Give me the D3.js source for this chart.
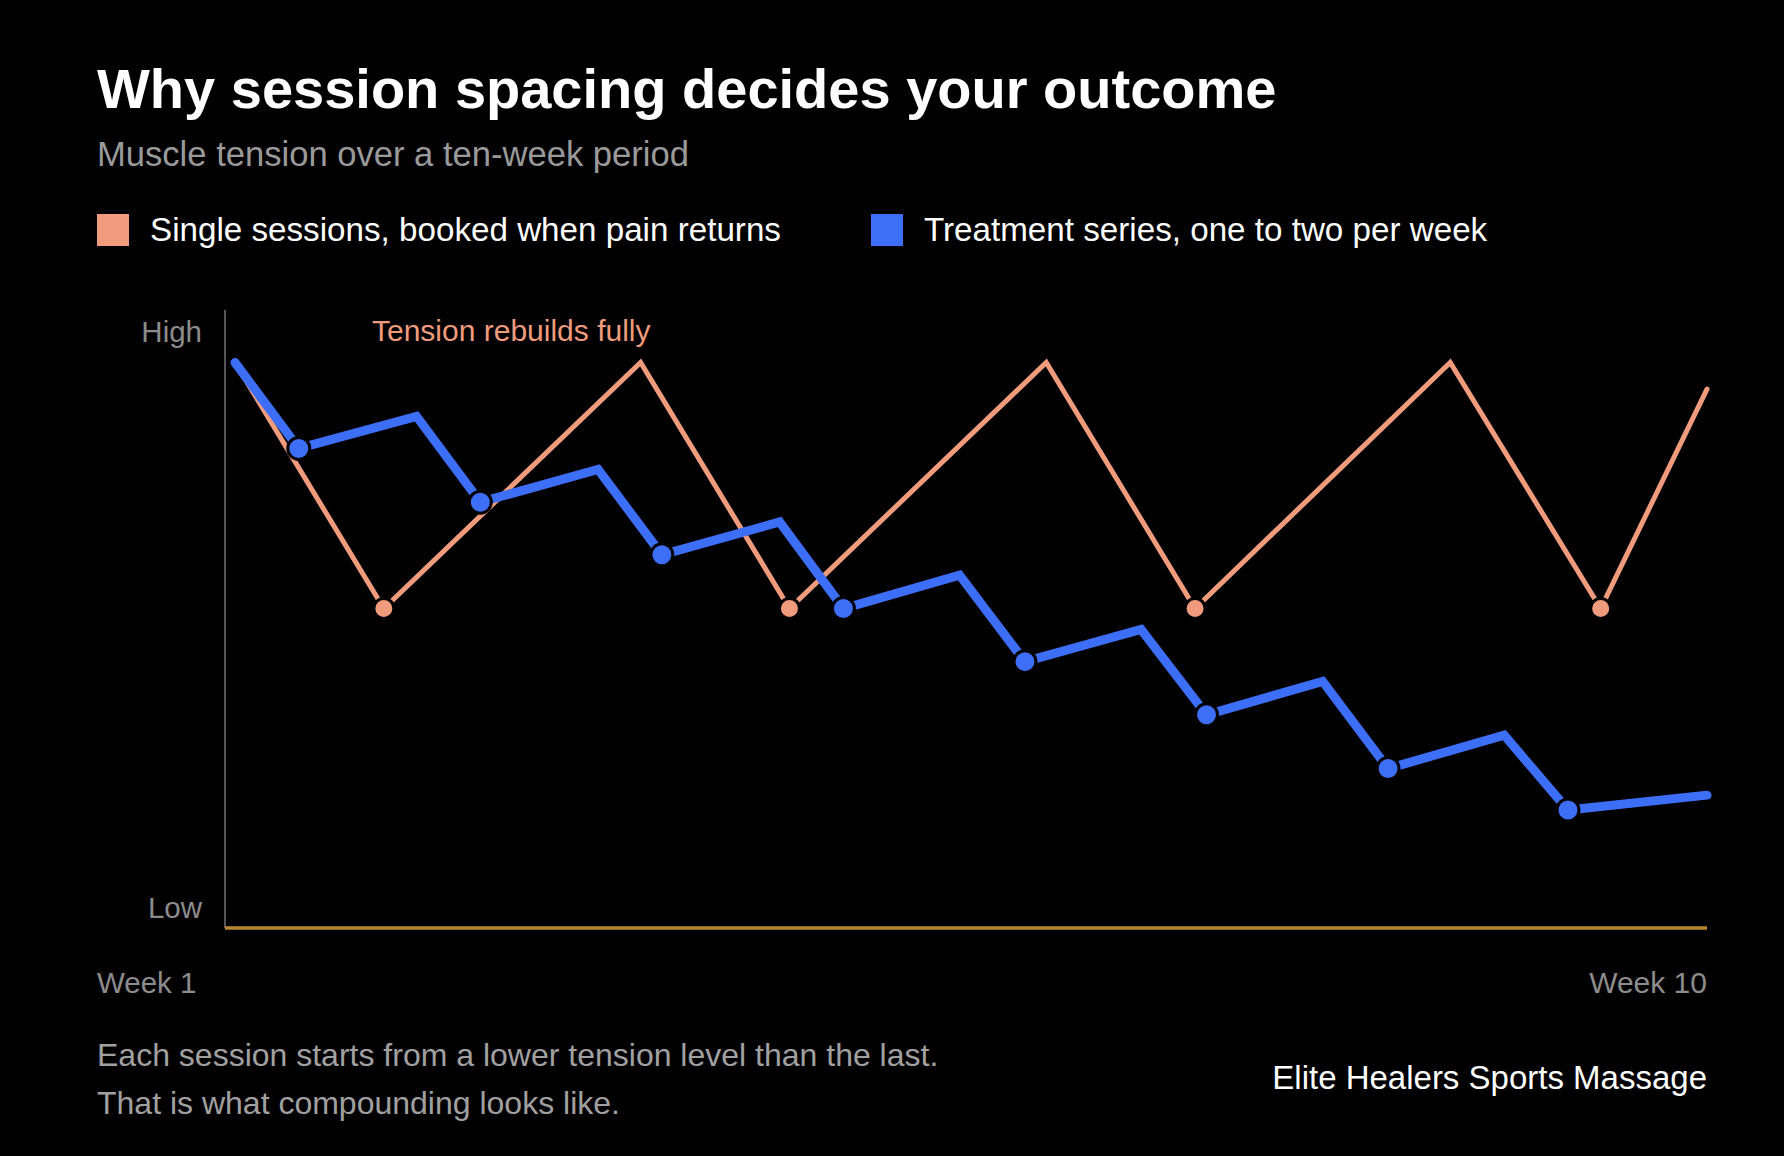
<!DOCTYPE html>
<html>
<head>
<meta charset="utf-8">
<title>Why session spacing decides your outcome</title>
<script src="https://d3js.org/d3.v7.min.js"></script>
<style>
  html, body { margin: 0; padding: 0; background: #000; }
  text { font-family: "Liberation Sans", Arial, Helvetica, sans-serif; }
</style>
</head>
<body>
<svg id="chart" width="1784" height="1156"></svg>
<script>
// week position (1..10) and tension level (0 = low, 100 = high)
var singleWeeks  = [1, 1.91, 3.48, 4.39, 5.96, 6.87, 8.43, 9.35, 10];
var singleValues = [91.5, 51.7, 91.5, 51.7, 91.5, 51.7, 91.5, 51.7, 87.2];
var singleDots   = [1, 3, 5, 7];

var seriesWeeks  = [1, 1.39, 2.11, 2.50, 3.22, 3.61, 4.33, 4.72, 5.43, 5.83,
                    6.54, 6.94, 7.65, 8.05, 8.76, 9.15, 10];
var seriesValues = [91.5, 77.6, 82.8, 68.9, 74.2, 60.4, 65.7, 51.7, 57.1, 43.1,
                    48.3, 34.5, 39.9, 25.8, 31.2, 19.1, 21.5];
var seriesDots   = [1, 3, 5, 7, 9, 11, 13, 15];

var legendLabels = ["Single sessions, booked when pain returns",
                    "Treatment series, one to two per week"];
var yLabels = ["Low", "High"];
var xLabels = ["Week 1", "Week 10"];

var orange = "#ef9b7c";
var blue = "#3d6ef7";

var svg = d3.select("#chart");
svg.append("rect").attr("width", 1784).attr("height", 1156).attr("fill", "#000");

var plotLeft = 225, plotRight = 1707, plotTop = 310, plotBottom = 928;

var x = d3.scaleLinear().domain([1, 10]).range([plotLeft + 10, plotRight]);
var y = d3.scaleLinear().domain([0, 100]).range([plotBottom, plotTop]);

// titles
svg.append("text").attr("x", 97).attr("y", 108)
  .attr("font-size", 56).attr("font-weight", "bold").attr("fill", "#fff")
  .text("Why session spacing decides your outcome");
svg.append("text").attr("x", 97).attr("y", 166)
  .attr("font-size", 34.6).attr("fill", "#9a9a9a")
  .text("Muscle tension over a ten-week period");

// legend
var legendX = [97, 871];
[orange, blue].forEach(function(c, i) {
  svg.append("rect").attr("x", legendX[i]).attr("y", 214)
    .attr("width", 32).attr("height", 32).attr("fill", c);
  svg.append("text").attr("x", legendX[i] + 53).attr("y", 241)
    .attr("font-size", 33.2).attr("fill", "#fff").text(legendLabels[i]);
});

// axes
svg.append("line").attr("x1", plotLeft).attr("x2", plotLeft)
  .attr("y1", plotTop).attr("y2", plotBottom)
  .attr("stroke", "#555").attr("stroke-width", 2);
svg.append("line").attr("x1", plotLeft).attr("x2", plotRight)
  .attr("y1", y(0)).attr("y2", y(0))
  .attr("stroke", "#b8862b").attr("stroke-width", 3.5);

svg.append("text").attr("x", 202).attr("y", y(0) - 10)
  .attr("text-anchor", "end").attr("font-size", 29.5).attr("fill", "#8c8c8c")
  .text(yLabels[0]);
svg.append("text").attr("x", 202).attr("y", y(100) + 32)
  .attr("text-anchor", "end").attr("font-size", 29.5).attr("fill", "#8c8c8c")
  .text(yLabels[1]);

svg.append("text").attr("x", 97).attr("y", 993)
  .attr("font-size", 29.5).attr("fill", "#8c8c8c").text(xLabels[0]);
svg.append("text").attr("x", plotRight).attr("y", 993)
  .attr("text-anchor", "end").attr("font-size", 30).attr("fill", "#8c8c8c")
  .text(xLabels[1]);

// lines
var line = d3.line()
  .x(function(d) { return x(d[0]); })
  .y(function(d) { return y(d[1]); });

var single = d3.zip(singleWeeks, singleValues);
var series = d3.zip(seriesWeeks, seriesValues);

svg.append("path").attr("d", line(single))
  .attr("fill", "none").attr("stroke", orange).attr("stroke-width", 5)
  .attr("stroke-linecap", "round").attr("stroke-linejoin", "miter");

svg.selectAll(".sdot").data(singleDots).enter().append("circle")
  .attr("cx", function(i) { return x(singleWeeks[i]); })
  .attr("cy", function(i) { return y(singleValues[i]); })
  .attr("r", 10).attr("fill", orange)
  .attr("stroke", "#000").attr("stroke-width", 3);

svg.append("path").attr("d", line(series))
  .attr("fill", "none").attr("stroke", blue).attr("stroke-width", 9)
  .attr("stroke-linecap", "round").attr("stroke-linejoin", "miter");

svg.selectAll(".bdot").data(seriesDots).enter().append("circle")
  .attr("cx", function(i) { return x(seriesWeeks[i]); })
  .attr("cy", function(i) { return y(seriesValues[i]); })
  .attr("r", 11).attr("fill", blue)
  .attr("stroke", "#000").attr("stroke-width", 3);

// annotation
svg.append("text").attr("x", 372).attr("y", 341)
  .attr("font-size", 30).attr("fill", orange).text("Tension rebuilds fully");

// footer
svg.append("text").attr("x", 97).attr("y", 1066)
  .attr("font-size", 32).attr("fill", "#a0a0a0")
  .text("Each session starts from a lower tension level than the last.");
svg.append("text").attr("x", 97).attr("y", 1114)
  .attr("font-size", 32).attr("fill", "#a0a0a0")
  .text("That is what compounding looks like.");
svg.append("text").attr("x", plotRight).attr("y", 1089)
  .attr("text-anchor", "end").attr("font-size", 33).attr("fill", "#fff")
  .text("Elite Healers Sports Massage");
</script>
</body>
</html>
